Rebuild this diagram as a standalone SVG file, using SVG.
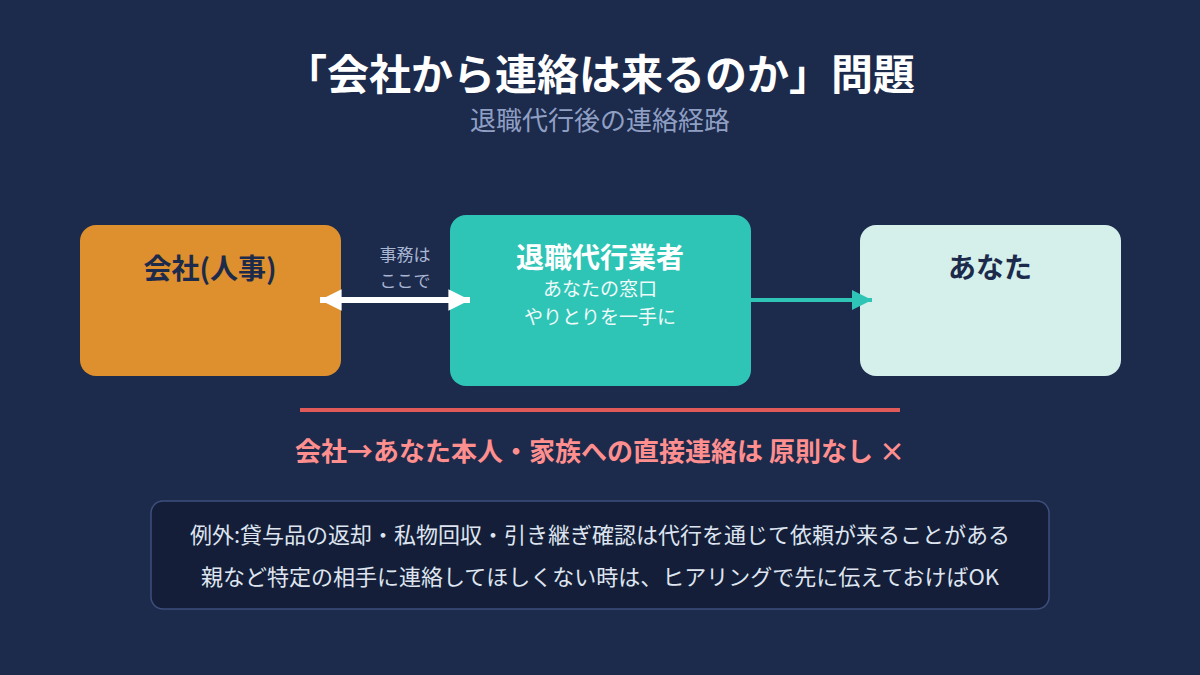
<svg xmlns="http://www.w3.org/2000/svg" width="1200" height="675" viewBox="0 0 1200 675">
<style>
text{font-family:"Noto Sans CJK JP","Noto Sans",sans-serif;text-anchor:middle}
.t{font-size:42px;font-weight:700;fill:#ffffff}
.st{font-size:26px;fill:#8f9fc4}
.nt{font-size:28px;font-weight:700}
.sub{font-size:19px;fill:#f0fbf9}
.lbl{font-size:17px;fill:#a9b6d3}
.warn{font-size:26px;font-weight:700;fill:#ff8f8f}
.note{font-size:22px;fill:#dfe5f0}
</style>
<defs>
<marker id="wh" viewBox="0 0 10 10" refX="10" refY="5" markerWidth="3.6" markerHeight="4.2" orient="auto-start-reverse" markerUnits="strokeWidth"><path d="M0,0L10,5L0,10z" fill="#ffffff"/></marker>
<marker id="th" viewBox="0 0 10 10" refX="10" refY="5" markerWidth="5" markerHeight="6" orient="auto" markerUnits="strokeWidth"><path d="M0,0L10,5L0,10z" fill="#2ec4b6"/></marker>
</defs>
<rect width="1200" height="675" fill="#1c2a4b"/>
<text class="t" x="600" y="90">「会社から連絡は来るのか」問題</text>
<text class="st" x="600" y="130">退職代行後の連絡経路</text>
<g id="company">
<rect x="80" y="225" width="261" height="151" rx="16" fill="#de8f2e"/>
<text class="nt" x="210" y="279" fill="#1c2a4b">会社(人事)</text>
</g>
<g id="agent">
<rect x="450" y="215" width="301" height="171" rx="16" fill="#2ec4b6"/>
<text class="nt" x="600" y="268" fill="#ffffff">退職代行業者</text>
<text class="sub" x="600" y="296">あなたの窓口</text>
<text class="sub" x="600" y="324">やりとりを一手に</text>
</g>
<g id="you">
<rect x="860" y="225" width="261" height="151" rx="16" fill="#d5efea"/>
<text class="nt" x="990" y="278" fill="#1c2a4b">あなた</text>
</g>
<g id="connectors">
<line x1="320" y1="300" x2="470" y2="300" stroke="#ffffff" stroke-width="6" marker-start="url(#wh)" marker-end="url(#wh)"/>
<text class="lbl" x="405" y="261">事務は</text>
<text class="lbl" x="405" y="287">ここで</text>
<line x1="751" y1="300" x2="872" y2="300" stroke="#2ec4b6" stroke-width="4" marker-end="url(#th)"/>
</g>
<line x1="300" y1="410" x2="900" y2="410" stroke="#e05a5a" stroke-width="4"/>
<text class="warn" x="600" y="461">会社→あなた本人・家族への直接連絡は 原則なし ×</text>
<g id="note">
<rect x="151" y="501" width="898" height="108" rx="12" fill="#141e38" stroke="#3d4f7d" stroke-width="1.5"/>
<text class="note" x="600" y="543">例外:貸与品の返却・私物回収・引き継ぎ確認は代行を通じて依頼が来ることがある</text>
<text class="note" x="600" y="585">親など特定の相手に連絡してほしくない時は、ヒアリングで先に伝えておけばOK</text>
</g>
</svg>
